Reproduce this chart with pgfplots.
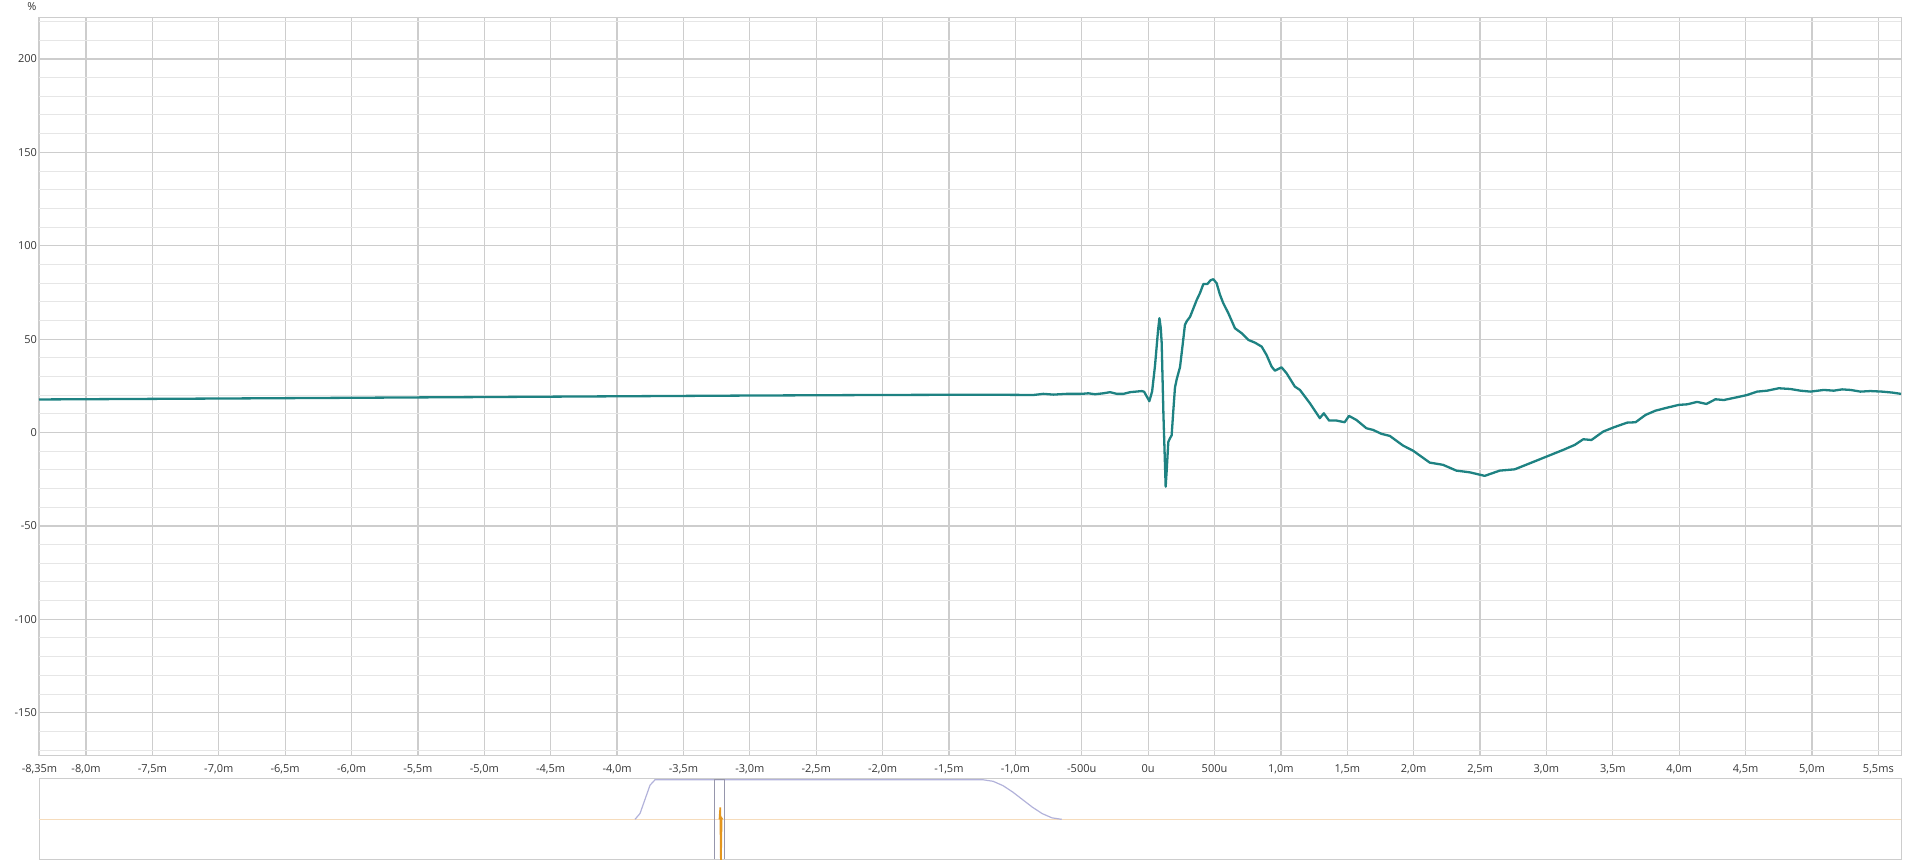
\documentclass[border=0pt]{standalone}
\usepackage{fontspec}
\setmainfont{Open Sans}
\usepackage{pgfplots}
\pgfplotsset{compat=1.18}
\definecolor{curve}{RGB}{30,130,130}
\definecolor{gridmaj}{RGB}{205,205,205}
\definecolor{gridmin}{RGB}{230,230,230}
\definecolor{framec}{RGB}{205,205,205}
\definecolor{labelc}{RGB}{55,55,55}
\definecolor{winc}{RGB}{178,178,218}
\definecolor{boxc}{RGB}{150,150,172}
\definecolor{spikec}{RGB}{228,150,30}
\definecolor{baseorange}{RGB}{246,220,188}
\begin{document}
\begin{tikzpicture}
\path[use as bounding box] (0pt,0pt) rectangle (1920pt,862pt);
\begin{axis}[
  at={(39pt,106.7pt)}, anchor=south west,
  scale only axis, width=1862pt, height=738pt,
  xmin=-8.354, xmax=5.671, ymin=-172.8, ymax=222.3,
  xtick={-8.35,-8,-7.5,-7,-6.5,-6,-5.5,-5,-4.5,-4,-3.5,-3,-2.5,-2,-1.5,-1,-0.5,0,0.5,1,1.5,2,2.5,3,3.5,4,4.5,5,5.5},
  xticklabels={{-8,35m},{-8,0m},{-7,5m},{-7,0m},{-6,5m},{-6,0m},{-5,5m},{-5,0m},{-4,5m},{-4,0m},{-3,5m},{-3,0m},{-2,5m},{-2,0m},{-1,5m},{-1,0m},{-500u},{0u},{500u},{1,0m},{1,5m},{2,0m},{2,5m},{3,0m},{3,5m},{4,0m},{4,5m},{5,0m},{5,5ms}},
  ytick={-150,-100,-50,0,50,100,150,200},
  yticklabels={-150,-100,-50,0,50,100,150,200},
  minor ytick={-170,-160,-140,-130,-120,-110,-90,-80,-70,-60,-40,-30,-20,-10,10,20,30,40,60,70,80,90,110,120,130,140,160,170,180,190,210,220},
  xmajorgrids, ymajorgrids, yminorgrids,
  major grid style={color=gridmaj, line width=1.2pt},
  minor grid style={color=gridmin, line width=1pt},
  axis line style={color=framec, line width=1pt},
  major tick length=0pt, minor tick length=0pt,
  tick label style={font=\fontsize{11}{13}\selectfont, text=labelc},
  xticklabel style={text height=7.8pt, text depth=2pt, yshift=-5.6pt},
  yticklabel style={xshift=1.5pt},
]
\addplot[color=curve, line width=2.3pt, line join=round] coordinates {
(-8.354,17.7) (-7.0,18.2) (-6.0,18.6) (-5.0,19.0) (-4.0,19.4) (-3.0,19.8) (-2.0,20.1)
(-1.5,20.2) (-1.115,20.2) (-0.864,20.1) (-0.789,20.7) (-0.714,20.3) (-0.613,20.7)
(-0.5,20.7) (-0.45,21.0) (-0.4,20.5) (-0.337,21.0) (-0.287,21.6) (-0.236,20.7)
(-0.186,20.7) (-0.136,21.6) (-0.048,22.2) (-0.03,21.8) (0.009,16.8) (0.03,22)
(0.052,36) (0.075,55) (0.085,61.2) (0.095,56) (0.102,48) (0.115,10) (0.132,-29)
(0.14,-20) (0.152,-5) (0.165,-3) (0.177,-1.5) (0.19,12) (0.202,24) (0.215,28.5)
(0.24,35) (0.26,47) (0.277,57.6) (0.29,59.5) (0.316,62) (0.366,71) (0.39,74.6)
(0.416,79.5) (0.446,79.5) (0.47,81.5) (0.491,82.1) (0.516,79.9) (0.54,74)
(0.566,69.2) (0.604,63.9) (0.654,55.8) (0.704,53.2) (0.754,49.6) (0.805,48.1)
(0.855,46) (0.892,41.5) (0.93,35.3) (0.955,33.1) (1.005,34.9) (1.043,31.7)
(1.105,24.6) (1.143,22.8) (1.218,15.7) (1.293,7.7) (1.323,10.3) (1.363,6.4)
(1.419,6.4) (1.48,5.5) (1.513,8.9) (1.569,6.7) (1.644,2.3) (1.694,1.4) (1.757,-0.7)
(1.82,-1.8) (1.895,-5.7) (1.92,-7) (1.995,-9.7) (2.06,-13) (2.121,-16.1) (2.221,-17.3)
(2.322,-20.4) (2.422,-21.3) (2.535,-23.2) (2.648,-20.4) (2.761,-19.7) (2.874,-16.5)
(3.0,-12.9) (3.126,-9.3) (3.214,-6.6) (3.277,-3.6) (3.339,-4) (3.427,0.5) (3.508,2.8)
(3.608,5.3) (3.671,5.5) (3.746,9.4) (3.821,11.7) (3.909,13.3) (3.997,14.8) (4.06,15.1)
(4.135,16.4) (4.205,15.3) (4.273,17.8) (4.336,17.4) (4.436,18.9) (4.512,20.1)
(4.587,21.9) (4.662,22.4) (4.75,23.7) (4.838,23.3) (4.913,22.4) (4.989,21.9)
(5.089,22.8) (5.164,22.4) (5.227,23.1) (5.29,22.8) (5.365,21.9) (5.44,22.2)
(5.528,21.9) (5.603,21.4) (5.671,20.7)
};
\end{axis}
\node[font=\fontsize{11}{13}\selectfont, text=labelc] at (32pt,855pt) {\%};
\begin{axis}[
  at={(39pt,2.7pt)}, anchor=south west,
  scale only axis, width=1862pt, height=80.3pt,
  xmin=0, xmax=1862, ymin=-1, ymax=1.01,
  xtick=\empty, ytick=\empty,
  axis line style={color=framec, line width=1pt},
]
\addplot[color=baseorange, line width=1.2pt] coordinates {(0,0) (1862,0)};
\addplot[color=winc, line width=1.2pt] coordinates {
(596,0) (601,0.146) (606,0.5) (611,0.854) (616,0.99) (944.3,0.99) (954.1,0.952)
(963.9,0.845) (973.7,0.684) (983.5,0.495) (993.3,0.306) (1003.1,0.145) (1012.9,0.038) (1022.7,0)
};
\addplot[color=boxc, line width=1pt] coordinates {
(675.5,-1) (675.5,0.99) (685.3,0.99) (685.3,-1)
};
\addplot[color=spikec, line width=1.7pt] coordinates {
(680.5,0) (681.3,0.3) (681.9,-1.1) (682.6,0.03) (683.5,0)
};
\end{axis}
\end{tikzpicture}
\end{document}
